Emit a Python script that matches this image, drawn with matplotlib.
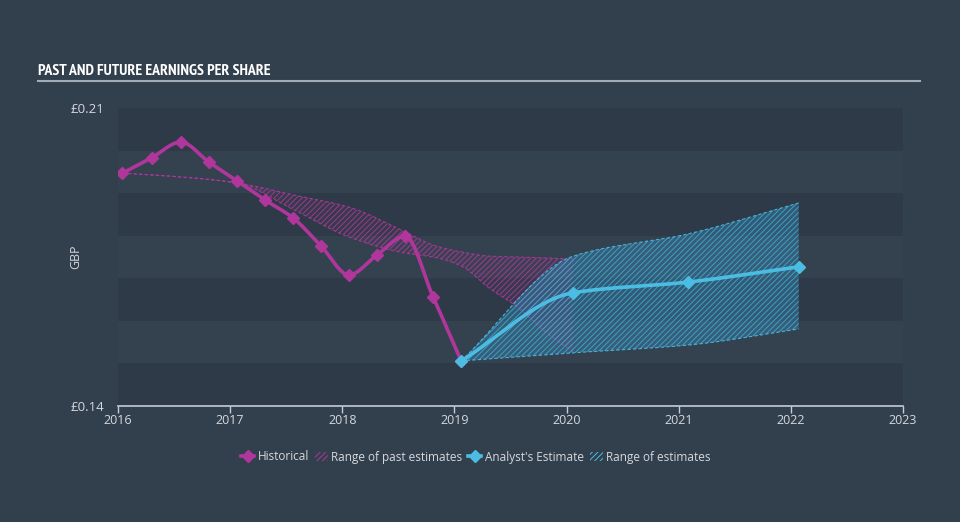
import numpy as np
import matplotlib
matplotlib.use("Agg")
import matplotlib.pyplot as plt
from matplotlib import font_manager
from matplotlib.font_manager import FontProperties
from matplotlib.lines import Line2D
from matplotlib.patches import Patch

# ---------------- data ----------------
hist_dates = [2016.04, 2016.30, 2016.56, 2016.81, 2017.06, 2017.31, 2017.56,
              2017.81, 2018.06, 2018.31, 2018.56, 2018.81, 2019.06]
hist_eps = [0.1947, 0.1983, 0.2020, 0.1973, 0.1929, 0.1884, 0.1842,
            0.1776, 0.1708, 0.1755, 0.1799, 0.1656, 0.1506]

past_range_dates = [2016.04, 2016.56, 2017.06, 2017.56, 2018.06, 2018.56,
                    2018.81, 2019.06, 2019.31, 2019.56, 2019.81, 2020.06]
past_high = [0.1947, 0.1938, 0.1924, 0.1896, 0.1867, 0.1809,
             0.1778, 0.1762, 0.1752, 0.1750, 0.1748, 0.1745]
past_low = [0.1947, 0.1938, 0.1924, 0.1862, 0.1797, 0.1759,
            0.1750, 0.1729, 0.1677, 0.1633, 0.1574, 0.1527]

fut_dates = [2019.06, 2020.06, 2021.08, 2022.07]
fut_eps = [0.1506, 0.1666, 0.1691, 0.1727]
fut_high = [0.1506, 0.1752, 0.1804, 0.1877]
fut_low = [0.1506, 0.1525, 0.1543, 0.1581]

x_ticks = [2016, 2017, 2018, 2019, 2020, 2021, 2022, 2023]
y_ticks = [0.14, 0.21]
y_tick_labels = ["£0.14", "£0.21"]

title = "PAST AND FUTURE EARNINGS PER SHARE"
legend_labels = ["Historical", "Range of past estimates", "Analyst's Estimate", "Range of estimates"]

# ---------------- style ----------------
BG = "#323f4d"
BAND_DARK = "#2e3a48"
BAND_LIGHT = "#34414f"
MAGENTA = "#b1369c"
CYAN = "#4bbde3"
TXT = "#d5d9de"

names = {f.name for f in font_manager.fontManager.ttflist}
body_font = "Open Sans" if "Open Sans" in names else "DejaVu Sans"
plt.rcParams["font.family"] = [body_font, "DejaVu Sans"]
plt.rcParams["hatch.linewidth"] = 0.7


def pick_title_font():
    best = None
    for f in font_manager.fontManager.ttflist:
        w = f.weight if isinstance(f.weight, int) else (700 if "bold" in str(f.weight).lower() else 400)
        if w < 600:
            continue
        score = None
        if "Narrow" in f.name:
            score = 0
        elif "Condensed" in f.name or "condensed" in str(f.stretch):
            score = 1
        elif isinstance(f.stretch, int) and f.stretch < 500:
            score = 1
        if score is not None and (best is None or score < best[0]):
            best = (score, f.fname)
    if best:
        return FontProperties(fname=best[1])
    return FontProperties(family="DejaVu Sans", weight="bold")


def smooth(x, y, n=300):
    """Monotone cubic (Fritsch-Carlson) rendering of a polyline."""
    x = np.asarray(x, float)
    y = np.asarray(y, float)
    h = np.diff(x)
    d = np.diff(y) / h
    m = np.zeros_like(y)
    m[0], m[-1] = d[0], d[-1]
    for i in range(1, len(y) - 1):
        if d[i - 1] * d[i] <= 0:
            m[i] = 0
        else:
            w1 = 2 * h[i] + h[i - 1]
            w2 = h[i] + 2 * h[i - 1]
            m[i] = (w1 + w2) / (w1 / d[i - 1] + w2 / d[i])
    xs = np.linspace(x[0], x[-1], n)
    idx = np.clip(np.searchsorted(x, xs) - 1, 0, len(x) - 2)
    t = (xs - x[idx]) / h[idx]
    h00 = 2 * t**3 - 3 * t**2 + 1
    h10 = t**3 - 2 * t**2 + t
    h01 = -2 * t**3 + 3 * t**2
    h11 = t**3 - t**2
    ys = h00 * y[idx] + h10 * h[idx] * m[idx] + h01 * y[idx + 1] + h11 * h[idx] * m[idx + 1]
    return xs, ys


fig = plt.figure(figsize=(9.6, 5.22), dpi=100, facecolor=BG)
ax = fig.add_axes([118 / 960, 1 - 406 / 522, (903 - 118) / 960, (406 - 108) / 522])
ax.set_facecolor(BG)
ax.set_xlim(2016, 2023)
ax.set_ylim(0.14, 0.21)

# horizontal bands
edges = np.linspace(0.14, 0.21, 8)
for i in range(7):
    col = BAND_DARK if i % 2 == 0 else BAND_LIGHT
    ax.axhspan(edges[i], edges[i + 1], color=col, lw=0, zorder=0)

# past estimate range
px, ph = smooth(past_range_dates, past_high)
_, pl = smooth(past_range_dates, past_low)
ax.fill_between(px, pl, ph, facecolor=(0.69, 0.21, 0.61, 0.08), edgecolor=(0.70, 0.24, 0.60, 0.8),
                hatch="//////", linewidth=0, zorder=2)
ax.plot(px, ph, color=MAGENTA, lw=0.8, ls=(0, (3, 2)), alpha=0.9, zorder=3)
ax.plot(px, pl, color=MAGENTA, lw=0.8, ls=(0, (3, 2)), alpha=0.9, zorder=3)

# future estimate range
fx, fh = smooth(fut_dates, fut_high)
_, fl = smooth(fut_dates, fut_low)
ax.fill_between(fx, fl, fh, facecolor=(0.22, 0.55, 0.72, 0.40), edgecolor=(0.27, 0.68, 0.85, 0.8),
                hatch="//////", linewidth=0, zorder=4)
ax.plot(fx, fh, color=CYAN, lw=0.8, ls=(0, (3, 2)), alpha=0.9, zorder=5)
ax.plot(fx, fl, color=CYAN, lw=0.8, ls=(0, (3, 2)), alpha=0.9, zorder=5)

# historical line
hx, hy = smooth(hist_dates, hist_eps)
ax.plot(hx, hy, color=MAGENTA, lw=2.6, solid_capstyle="round", zorder=6)
ax.plot(hist_dates, hist_eps, ls="none", marker="D", ms=6.5, color=MAGENTA, zorder=7)

# analyst estimate line
ex, ey = smooth(fut_dates, fut_eps)
ax.plot(ex, ey, color=CYAN, lw=2.6, solid_capstyle="round", zorder=8)
ax.plot(fut_dates, fut_eps, ls="none", marker="D", ms=6.5, color=CYAN, zorder=9)

# axes styling
for s in ["top", "right", "left"]:
    ax.spines[s].set_visible(False)
ax.spines["bottom"].set_color("#c5ccd4")
ax.spines["bottom"].set_linewidth(1.2)
ax.set_xticks(x_ticks)
ax.set_xticklabels([str(t) for t in x_ticks])
ax.set_yticks(y_ticks)
ax.set_yticklabels(y_tick_labels)
ax.tick_params(axis="x", colors="#c5ccd4", length=5, width=1, labelcolor=TXT, labelsize=9, pad=1)
ax.tick_params(axis="y", length=0, labelcolor=TXT, labelsize=9.5, pad=10)
ax.set_ylabel("GBP", color=TXT, fontsize=9)
ax.yaxis.set_label_coords(-0.046, 0.5)

# title and rule (fit the title to the reference width)
tp = pick_title_font()
t = fig.text(38 / 960, 1 - 75 / 522, title, color="white", fontproperties=tp, fontsize=15,
             va="baseline", ha="left")
fig.canvas.draw()
wpx = t.get_window_extent().width
t.set_fontsize(min(15, 15 * 232 / wpx))
fig.add_artist(Line2D([38 / 960, 920 / 960], [1 - 81 / 522, 1 - 81 / 522], color="#a3abb4", lw=1.5))

# legend
handles = [
    Line2D([0], [0], color=MAGENTA, lw=2.6, marker="D", ms=6.5),
    Patch(facecolor=(0, 0, 0, 0), edgecolor=MAGENTA, hatch="//////", lw=0),
    Line2D([0], [0], color=CYAN, lw=2.6, marker="D", ms=6.5),
    Patch(facecolor=(0, 0, 0, 0), edgecolor=CYAN, hatch="//////", lw=0),
]
leg = fig.legend(handles, legend_labels, loc="center", bbox_to_anchor=(476 / 960, 1 - 457 / 522),
                 ncol=4, frameon=False, fontsize=8.5, labelcolor=TXT, handlelength=1.1,
                 handletextpad=0.3, columnspacing=0.5)

fig.savefig("out.png", dpi=100, facecolor=BG)
